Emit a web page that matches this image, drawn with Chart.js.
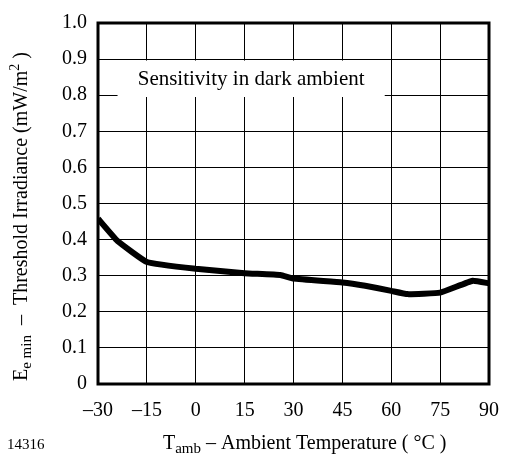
<!DOCTYPE html>
<html>
<head>
<meta charset="utf-8">
<script src="https://cdn.jsdelivr.net/npm/chart.js@4"></script>
<style>
  html, body { margin: 0; padding: 0; background: #fff; }
</style>
</head>
<body>
<canvas id="chart" width="514" height="457"></canvas>
<script>
// values
const temps = [-30, -24, -15, 0, 15, 26, 30, 45, 52, 60, 65, 75, 85, 90];
const irradiance = [0.458, 0.396, 0.338, 0.319, 0.307, 0.302, 0.292, 0.281, 0.272, 0.258, 0.249, 0.253, 0.286, 0.279];
const xTicks = [-30, -15, 0, 15, 30, 45, 60, 75, 90];
const yTicks = [0, 0.1, 0.2, 0.3, 0.4, 0.5, 0.6, 0.7, 0.8, 0.9, 1.0];

const serif = '"Liberation Serif", "Times New Roman", serif';

// draws text made of pieces with their own size and vertical shift
function richText(ctx, x, y, parts) {
    let cx = x;
    parts.forEach(p => {
        ctx.font = p.size + 'px ' + serif;
        ctx.fillText(p.t, cx, y + (p.dy || 0));
        cx += ctx.measureText(p.t).width;
    });
}

const decorations = {
    id: 'decorations',
    beforeDatasetsDraw(chart) {
        const ctx = chart.ctx;
        const xs = chart.scales.x, ys = chart.scales.y;
        // white label box over the grid
        const x0 = xs.getPixelForValue(-24), x1 = xs.getPixelForValue(58);
        const y0 = ys.getPixelForValue(0.896), y1 = ys.getPixelForValue(0.795);
        ctx.save();
        ctx.fillStyle = '#fff';
        ctx.fillRect(x0, y0, x1 - x0, y1 - y0);
        ctx.fillStyle = '#000';
        ctx.font = '21px ' + serif;
        ctx.textAlign = 'center';
        ctx.textBaseline = 'middle';
        ctx.fillText('Sensitivity in dark ambient', (x0 + x1) / 2, (y0 + y1) / 2 + 1);
        ctx.restore();
    },
    afterDraw(chart) {
        const ctx = chart.ctx;
        const a = chart.chartArea;
        ctx.save();
        ctx.strokeStyle = '#000';
        ctx.lineWidth = 3;
        ctx.strokeRect(a.left, a.top, a.right - a.left, a.bottom - a.top);

        ctx.fillStyle = '#000';
        ctx.textBaseline = 'alphabetic';
        ctx.textAlign = 'left';
        // x title
        richText(ctx, 163, 449, [
            {t: 'T', size: 20},
            {t: 'amb', size: 15, dy: 4},
            {t: ' – Ambient Temperature ( °C )', size: 20}
        ]);
        // figure number
        ctx.font = '15px ' + serif;
        ctx.fillText('14316', 7, 449);

        // y title, rotated
        ctx.translate(27, 381);
        ctx.rotate(-Math.PI / 2);
        richText(ctx, 0, 0, [
            {t: 'E', size: 20},
            {t: 'e min', size: 15, dy: 4},
            {t: '  –  Threshold Irradiance (mW/m', size: 20},
            {t: '2', size: 14, dy: -8},
            {t: ' )', size: 20}
        ]);
        ctx.restore();
    }
};

new Chart(document.getElementById('chart'), {
    type: 'line',
    data: {
        datasets: [{
            data: temps.map((t, i) => ({x: t, y: irradiance[i]})),
            borderColor: '#000',
            borderWidth: 6,
            pointRadius: 0,
            tension: 0.1,
            fill: false
        }]
    },
    options: {
        responsive: false,
        animation: false,
        layout: {padding: {top: 19, right: 11, left: 0, bottom: 0}},
        plugins: {legend: {display: false}, tooltip: {enabled: false}},
        scales: {
            x: {
                type: 'linear',
                min: -30,
                max: 90,
                afterBuildTicks: axis => { axis.ticks = xTicks.map(v => ({value: v})); },
                afterFit: axis => { axis.height = 73; },
                grid: {color: '#000', lineWidth: 1, drawTicks: false},
                border: {display: false},
                ticks: {
                    padding: 15,
                    color: '#000',
                    font: {family: serif, size: 20},
                    maxRotation: 0,
                    callback: v => String(v).replace('-', '–')
                }
            },
            y: {
                min: 0,
                max: 1,
                afterBuildTicks: axis => { axis.ticks = yTicks.map(v => ({value: v})); },
                afterFit: axis => { axis.width = 98; },
                grid: {color: '#000', lineWidth: 1, drawTicks: false},
                border: {display: false},
                ticks: {
                    padding: 11,
                    color: '#000',
                    font: {family: serif, size: 20},
                    callback: v => v === 0 ? '0' : v.toFixed(1)
                }
            }
        }
    },
    plugins: [decorations]
});
</script>
</body>
</html>
